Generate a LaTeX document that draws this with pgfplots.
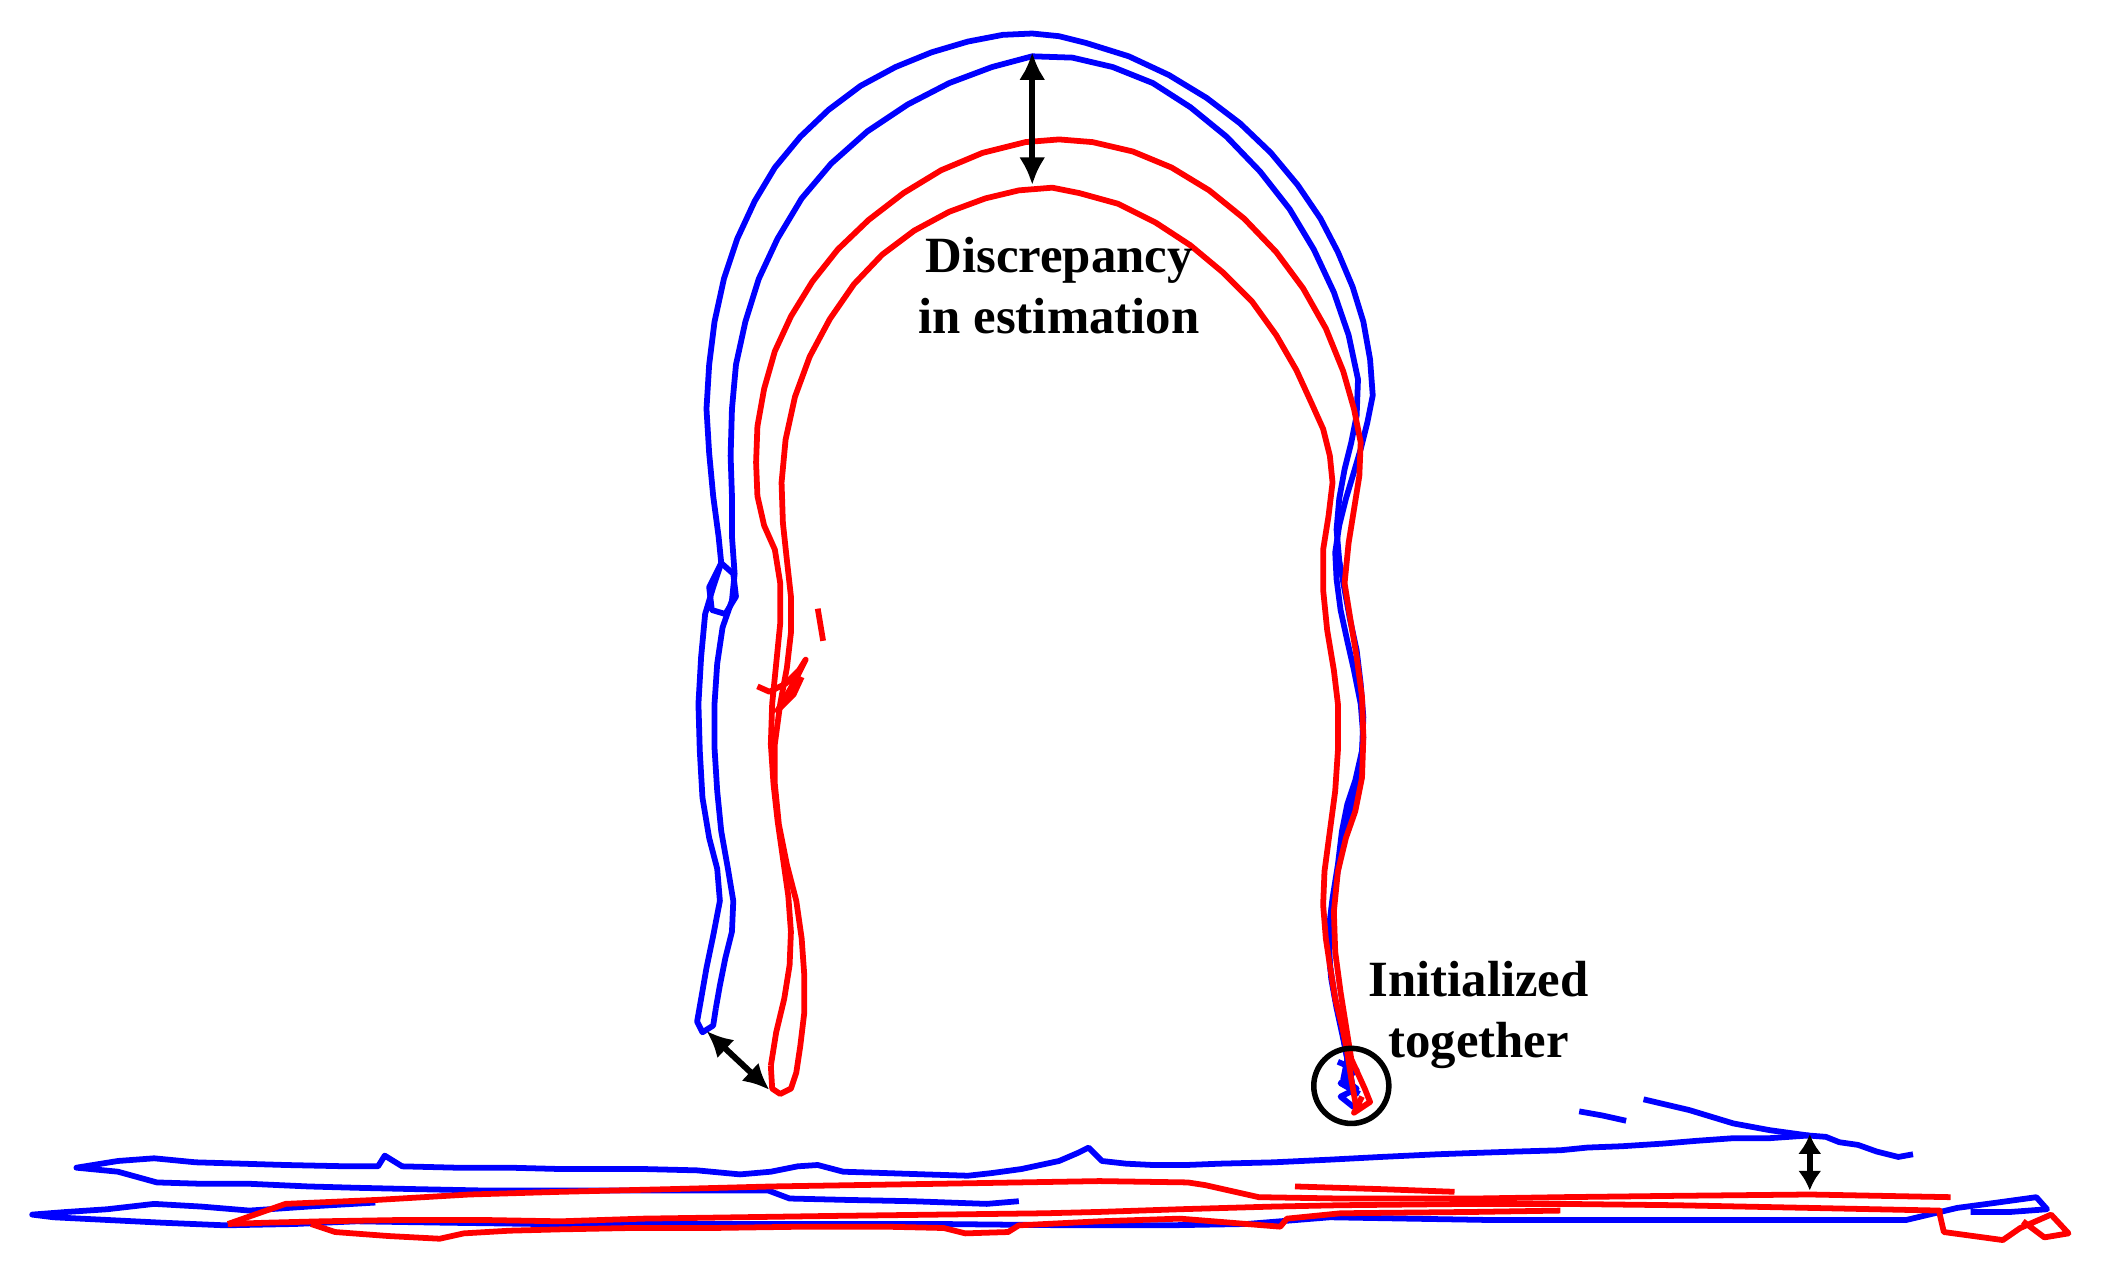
\documentclass[border=0pt]{standalone}
\usepackage{fontspec}
\setmainfont{Liberation Serif}
\usepackage{pgfplots}
\pgfplotsset{compat=1.18}
\usetikzlibrary{arrows.meta}
\definecolor{trajb}{RGB}{0,0,255}
\definecolor{trajr}{RGB}{255,0,0}

\begin{document}
\begin{tikzpicture}
\begin{axis}[scale only axis,width=16cm,height=9.776cm,
  xmin=0,xmax=1568,ymin=0,ymax=958,y dir=reverse,hide axis,clip=false,
  every axis plot/.append style={line width=1.25pt,line join=round,mark=none}]
\path (rel axis cs:0,0) rectangle (rel axis cs:1,1);
% blue estimate, right leg up, outer arch, left leg down
\addplot[trajb] coordinates {(1010,815)(1006,795)(1002,775)(997,752)(993,730)(991,705)(993,680)(997,655)(1001,632)(1006,610)(1011,590)(1015,570)(1017,550)(1015,525)(1010,500)(1005,478)(1000,455)(997,432)(996,412)(999,392)(1004,372)(1010,352)(1015,335)(1020,315)(1024,295)(1022,268)(1017,240)(1009,214)(998,188)(985,163)(968,138)(948,114)(925,92)(900,73)(872,56)(842,42)(810,32)(790,27)(770,25)(748,26)(722,31)(695,39)(668,50)(642,64)(618,82)(597,102)(578,125)(563,150)(550,178)(540,208)(533,240)(529,272)(527,305)(529,338)(532,370)(536,400)(538,420)(532,438)(526,458)(523,490)(521,525)(522,560)(524,595)(529,625)(535,648)(537,672)(532,698)(527,722)(523,745)(520,762)(524,770)(532,765)(534,752)};
% blue estimate, left leg up, inner arch, right leg down
\addplot[trajb] coordinates {(534,752)(537,735)(541,715)(546,695)(547,672)(543,648)(538,620)(535,590)(533,558)(533,525)(535,495)(539,468)(546,448)(548,428)(546,400)(546,370)(545,340)(546,305)(549,272)(556,240)(566,208)(580,178)(598,148)(620,122)(647,98)(677,78)(708,62)(740,50)(770,42)(800,43)(830,50)(860,62)(888,80)(915,102)(940,128)(962,156)(980,186)(995,218)(1006,250)(1013,283)(1012,310)(1008,330)(1003,350)(999,372)(997,395)(999,418)(1003,440)(1007,462)(1012,485)(1015,510)(1017,535)(1016,560)(1011,582)(1005,600)(1001,620)(998,645)(994,670)(991,695)(992,720)(996,745)(1001,768)(1005,790)(1002,805)(1012,812)(1000,818)(1010,826)};
\addplot[trajb] coordinates {(538,420)(547,428)(549,445)(541,458)(531,455)(529,438)(538,420)};
\addplot[trajb] coordinates {(998,792)(1012,798)(1000,808)(1014,816)};
% red estimate, right leg up, inner arch, left leg down
\addplot[trajr] coordinates {(1012,828)(1008,805)(1005,785)(1001,765)(996,745)(992,720)(989,700)(987,675)(988,650)(992,620)(996,590)(998,560)(998,525)(995,500)(990,470)(987,440)(987,410)(991,385)(994,360)(992,340)(987,320)(978,300)(967,276)(952,250)(934,225)(912,203)(888,183)(862,166)(834,152)(805,144)(785,140)(760,142)(735,148)(708,158)(682,172)(658,190)(637,212)(619,238)(604,266)(593,296)(586,328)(583,360)(584,390)(587,418)(590,445)(590,472)(587,498)(582,525)(578,555)(578,585)(581,615)(587,645)(594,672)(598,700)(600,728)(600,755)(597,780)(594,800)(590,812)(582,816)(576,812)(575,795)};
% red estimate, left leg up, outer arch, right leg down
\addplot[trajr] coordinates {(575,795)(579,770)(585,745)(589,720)(590,695)(588,668)(584,640)(580,612)(577,585)(575,555)(576,525)(579,495)(582,465)(582,435)(578,410)(570,392)(565,370)(564,345)(565,318)(570,290)(578,262)(590,236)(606,210)(625,186)(648,164)(674,144)(702,127)(733,114)(765,106)(790,104)(815,106)(845,113)(874,125)(902,142)(928,163)(952,188)(972,215)(989,245)(1002,277)(1010,305)(1015,330)(1014,355)(1010,380)(1006,405)(1003,435)(1007,460)(1012,490)(1016,520)(1017,550)(1016,580)(1011,605)(1004,625)(998,650)(995,680)(996,710)(1000,740)(1004,765)(1008,790)(1018,812)(1022,822)(1010,830)(1016,818)};
\addplot[trajr] coordinates {(565,512)(574,516)(586,510)(596,500)(601,492)(594,506)(586,520)(580,530)(592,518)(598,505)};
\addplot[trajr] coordinates {(610,454)(612,466)(614,478)};
% bottom corridor, blue
\addplot[trajb] coordinates {(1427,861)(1416,863)(1400,859)(1386,854)(1372,852)(1362,848)(1349,847)(1320,849)(1293,849)(1265,851)(1241,853)(1210,855)(1184,856)(1164,858)(1130,859)(1100,860)(1072,861)(1030,863)(992,865)(950,867)(910,868)(885,869)(860,869)(840,868)(822,866)(812,856)(804,860)(790,866)(762,872)(740,875)(722,877)(690,876)(660,875)(629,874)(610,869)(595,870)(575,874)(552,876)(520,873)(480,872)(440,872)(418,872)(380,871)(340,871)(300,870)(287,862)(282,870)(260,870)(213,869)(180,868)(146,867)(115,864)(88,866)(57,871)(88,874)(117,882)(150,883)(186,883)(230,885)(266,886)(310,887)(360,888)(418,888)(470,888)(520,888)(573,888)(589,894)(630,895)(680,896)(736,898)(760,896)};
\addplot[trajb] coordinates {(280,897)(230,900)(186,903)(150,900)(115,898)(80,902)(50,904)(24,906)(40,908)(80,910)(120,912)(168,914)(220,913)(266,911)(330,912)(403,913)(500,913)(600,913)(700,913)(800,914)(870,914)(930,913)(992,908)(1050,909)(1110,910)(1164,910)(1230,910)(1300,910)(1360,910)(1422,910)(1460,901)(1490,897)(1519,893)(1527,902)(1500,904)(1470,904)};
\addplot[trajb] coordinates {(1178,829)(1195,832)(1213,836)};
\addplot[trajb] coordinates {(1226,820)(1260,828)(1293,838)(1320,843)(1349,847)};
% bottom corridor, red
\addplot[trajr] coordinates {(170,913)(213,898)(282,895)(350,891)(418,889)(500,887)(576,885)(700,883)(820,881)(886,882)(899,884)(939,893)(1000,894)(1100,894)(1164,893)(1250,892)(1350,891)(1455,893)};
\addplot[trajr] coordinates {(966,885)(1030,887)(1085,889)};
\addplot[trajr] coordinates {(170,913)(200,912)(240,911)(300,910)(360,910)(418,911)(480,909)(550,908)(620,907)(700,906)(780,905)(820,904)(880,902)(950,900)(1000,899)(1100,898)(1164,898)(1250,899)(1350,901)(1447,903)(1447,906)(1450,919)(1494,925)(1507,916)(1530,906)(1543,920)(1525,923)(1509,911)};
\addplot[trajr] coordinates {(232,913)(250,919)(290,922)(328,924)(346,920)(380,918)(418,917)(470,916)(530,916)(600,915)(660,915)(704,916)(720,920)(752,919)(760,914)(820,911)(880,909)(955,915)(960,909)(1000,905)(1100,904)(1164,903)};
% annotations
\addplot[black,line width=1.3pt,{Latex[length=2.1mm,width=2mm]}-{Latex[length=2.1mm,width=2mm]}] coordinates {(770,39)(770,138)};
\addplot[black,line width=1.3pt,{Latex[length=2mm,width=1.9mm]}-{Latex[length=2mm,width=1.9mm]}] coordinates {(527,769)(574,813)};
\addplot[black,line width=1.3pt,{Latex[length=1.5mm,width=1.8mm]}-{Latex[length=1.5mm,width=1.8mm]}] coordinates {(1350,846)(1350,888)};
\draw[black,line width=1.2pt] (axis cs:1008,810) circle[radius=28];
\node[align=center,font=\bfseries\fontsize{11}{13.3}\selectfont] at (axis cs:790,213) {Discrepancy\\in estimation};
\node[align=center,font=\bfseries\fontsize{11}{13.3}\selectfont] at (axis cs:1103,757) {Initialized\\together};
\end{axis}
\end{tikzpicture}
\end{document}
